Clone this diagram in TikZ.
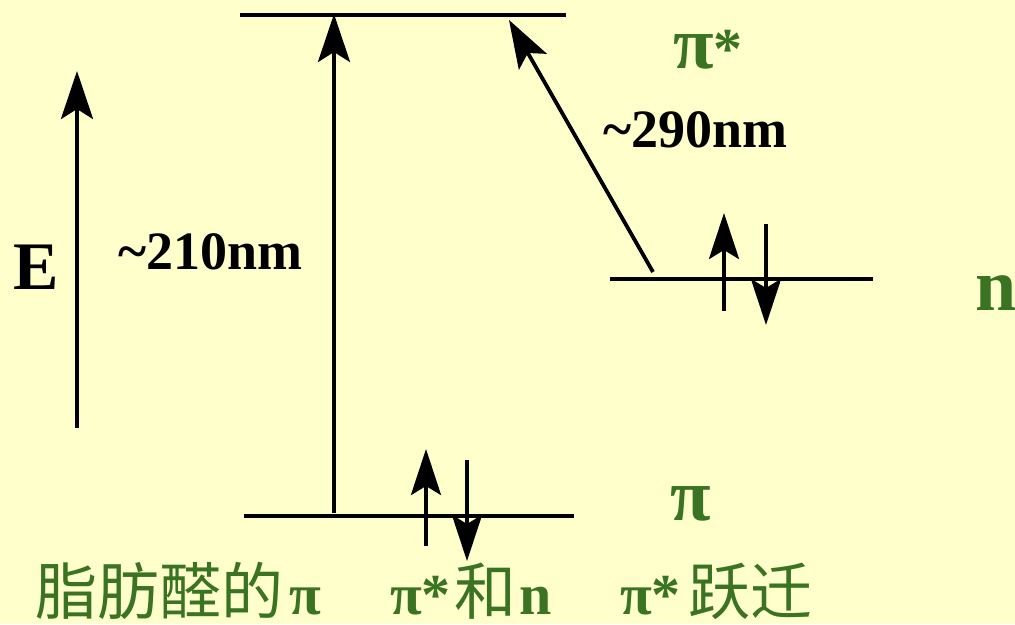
\documentclass[tikz,border=0pt]{standalone}
\usepackage{fontspec}
\setmainfont{Liberation Serif}
\newfontfamily\cjk{Noto Sans CJK SC}
\usetikzlibrary{arrows.meta}
\definecolor{bg}{HTML}{FFFFCC}
\definecolor{lbl}{HTML}{3A7322}
\tikzset{
  level/.style={line width=3.6pt},
  bigarr/.style={line width=3.8pt,-{Stealth[length=48pt,width=32pt,inset=10pt]}},
  elec/.style={line width=3.8pt,-{Stealth[length=46pt,width=30pt,inset=9pt]}},
  glbl/.style={text=lbl,font=\bfseries\fontsize{74}{74}\selectfont,inner sep=0pt},
  blbl/.style={text=black,font=\bfseries\fontsize{54}{54}\selectfont,inner sep=0pt},
  captxt/.style={text=lbl,inner sep=0pt,anchor=base west,text depth=6pt},
  capcjk/.style={captxt,font=\cjk\fontsize{62}{62}\selectfont},
  caplat/.style={captxt,font=\bfseries\fontsize{58}{58}\selectfont},
}
\begin{document}
\begin{tikzpicture}[x=1pt,y=-1pt]
\fill[bg] (0,0) rectangle (1015,624);
\useasboundingbox (0,0) rectangle (1015,624);
% levels
\coordinate (pisL) at (240,15); \coordinate (pisR) at (566,15);
\coordinate (piL) at (244,516); \coordinate (piR) at (574,516);
\coordinate (nL) at (610,279); \coordinate (nR) at (873,279);
\draw[level] (pisL) -- (pisR);
\draw[level] (piL) -- (piR);
\draw[level] (nL) -- (nR);
% energy axis
\coordinate (eA) at (77,428); \coordinate (eB) at (77,71);
\draw[bigarr] (eA) -- (eB);
\node[blbl,font=\bfseries\fontsize{68}{68}\selectfont] (E) at (36,267) {E};
% transitions
\coordinate (t1a) at (334,513); \coordinate (t1b) at (334,14);
\draw[bigarr] (t1a) -- (t1b);
\coordinate (t2a) at (653,272); \coordinate (t2b) at (509,20);
\draw[bigarr] (t2a) -- (t2b);
% electrons pi
\coordinate (p1a) at (426,546); \coordinate (p1b) at (426,449);
\coordinate (p2a) at (467,460); \coordinate (p2b) at (467,561);
\draw[elec] (p1a) -- (p1b);
\draw[elec] (p2a) -- (p2b);
% electrons n
\coordinate (n1a) at (724,311); \coordinate (n1b) at (724,213);
\coordinate (n2a) at (766,224); \coordinate (n2b) at (766,325);
\draw[elec] (n1a) -- (n1b);
\draw[elec] (n2a) -- (n2b);
% labels
\node[glbl] (lpis) at (708,50) {π\fontsize{58}{58}\selectfont*};
\node[glbl] (lpi) at (691,504) {π};
\node[glbl] (ln) at (996,293) {n};
\node[blbl,anchor=west] (l290) at (603,130) {\char"007E{}290nm};
\node[blbl,anchor=west] (l210) at (118,252) {\char"007E{}210nm};
% caption
\node[capcjk] (c1) at (35,614) {脂肪醛的};
\node[caplat] (c1p) at (289,614) {π};
\node[caplat] (c2p) at (390,614) {π*};
\node[capcjk] (c2h) at (454,614) {和};
\node[caplat] (c2n) at (519,614) {n};
\node[caplat] (c3p) at (620,614) {π*};
\node[capcjk] (c3c) at (688,614) {跃迁};
\end{tikzpicture}
\end{document}
